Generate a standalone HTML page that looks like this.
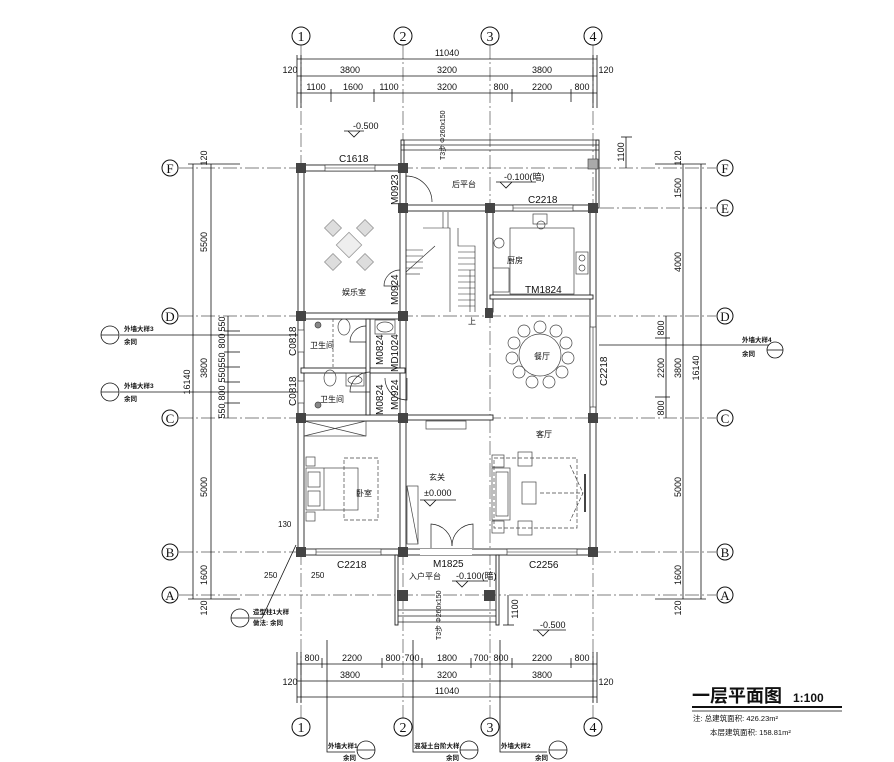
<!DOCTYPE html>
<html><head><meta charset="utf-8"><style>
html,body{margin:0;padding:0;background:#fff;}
svg{display:block;font-family:"Liberation Sans","Noto Sans CJK SC",sans-serif;}
.t{font-size:9px;fill:#111;}
.c{font-family:"Liberation Sans","Noto Sans CJK SC",sans-serif;}
</style></head><body>
<svg width="894" height="762" viewBox="0 0 894 762" xmlns="http://www.w3.org/2000/svg">
<rect width="894" height="762" fill="#fff"/>
<g stroke="#555" stroke-width="0.7" fill="none" stroke-dasharray="14,3,2,3">
<line x1="301" y1="45" x2="301" y2="718"/>
<line x1="403" y1="45" x2="403" y2="718"/>
<line x1="490" y1="45" x2="490" y2="718"/>
<line x1="593" y1="45" x2="593" y2="718"/>
<line x1="179" y1="168" x2="716" y2="168"/>
<line x1="600" y1="208" x2="716" y2="208"/>
<line x1="179" y1="316" x2="716" y2="316"/>
<line x1="179" y1="418" x2="716" y2="418"/>
<line x1="179" y1="552" x2="716" y2="552"/>
<line x1="179" y1="595" x2="716" y2="595"/>
</g>
<g stroke="#111" stroke-width="1" fill="#fff">
<circle cx="301" cy="36" r="9"/><circle cx="403" cy="36" r="9"/><circle cx="490" cy="36" r="9"/><circle cx="593" cy="36" r="9"/>
<circle cx="301" cy="727" r="9"/><circle cx="403" cy="727" r="9"/><circle cx="490" cy="727" r="9"/><circle cx="593" cy="727" r="9"/>
<circle cx="170" cy="168" r="8"/><circle cx="170" cy="316" r="8"/><circle cx="170" cy="418" r="8"/><circle cx="170" cy="552" r="8"/><circle cx="170" cy="595" r="8"/>
<circle cx="725" cy="168" r="8"/><circle cx="725" cy="208" r="8"/><circle cx="725" cy="316" r="8"/><circle cx="725" cy="418" r="8"/><circle cx="725" cy="552" r="8"/><circle cx="725" cy="595" r="8"/>
</g>
<g font-size="14" text-anchor="middle" fill="#111" font-family="Liberation Serif,serif">
<text x="301" y="41">1</text><text x="403" y="41">2</text><text x="490" y="41">3</text><text x="593" y="41">4</text>
<text x="301" y="732">1</text><text x="403" y="732">2</text><text x="490" y="732">3</text><text x="593" y="732">4</text>
<g font-size="13"><text x="170" y="173">F</text><text x="170" y="321">D</text><text x="170" y="423">C</text><text x="170" y="557">B</text><text x="170" y="600">A</text>
<text x="725" y="173">F</text><text x="725" y="213">E</text><text x="725" y="321">D</text><text x="725" y="423">C</text><text x="725" y="557">B</text><text x="725" y="600">A</text></g>
</g>
<g stroke="#111" stroke-width="0.8">
<line x1="297" y1="59" x2="597" y2="59"/><line x1="297" y1="76" x2="597" y2="76"/><line x1="297" y1="93" x2="597" y2="93"/>
<line x1="297" y1="55" x2="297" y2="108"/><line x1="301" y1="55" x2="301" y2="108"/><line x1="593" y1="55" x2="593" y2="108"/><line x1="597" y1="55" x2="597" y2="108"/>
<line x1="331" y1="89" x2="331" y2="102"/><line x1="374" y1="89" x2="374" y2="102"/><line x1="512" y1="89" x2="512" y2="102"/><line x1="571" y1="89" x2="571" y2="102"/>
<line x1="297" y1="664" x2="597" y2="664"/><line x1="297" y1="681" x2="597" y2="681"/><line x1="297" y1="697" x2="597" y2="697"/>
<line x1="297" y1="652" x2="297" y2="703"/><line x1="301" y1="652" x2="301" y2="703"/><line x1="593" y1="652" x2="593" y2="703"/><line x1="597" y1="652" x2="597" y2="703"/>
<line x1="322" y1="658" x2="322" y2="668"/><line x1="382" y1="658" x2="382" y2="668"/><line x1="422" y1="658" x2="422" y2="668"/><line x1="471" y1="658" x2="471" y2="668"/><line x1="512" y1="658" x2="512" y2="668"/><line x1="571" y1="658" x2="571" y2="668"/>
<line x1="193" y1="164" x2="193" y2="599"/><line x1="211" y1="164" x2="211" y2="599"/><line x1="228" y1="316" x2="228" y2="418"/>
<line x1="188" y1="164" x2="240" y2="164"/><line x1="188" y1="599" x2="240" y2="599"/>
<line x1="224" y1="331" x2="240" y2="331"/><line x1="224" y1="352" x2="240" y2="352"/><line x1="224" y1="367" x2="240" y2="367"/><line x1="224" y1="382" x2="240" y2="382"/><line x1="224" y1="403" x2="240" y2="403"/>
<line x1="683" y1="164" x2="683" y2="599"/><line x1="701" y1="164" x2="701" y2="599"/><line x1="666" y1="316" x2="666" y2="418"/>
<line x1="655" y1="164" x2="706" y2="164"/><line x1="655" y1="599" x2="706" y2="599"/>
<line x1="655" y1="338" x2="670" y2="338"/><line x1="655" y1="397" x2="670" y2="397"/>
<line x1="626" y1="137" x2="626" y2="168"/><line x1="621" y1="137" x2="632" y2="137"/>
<line x1="508" y1="595" x2="508" y2="625"/><line x1="503" y1="625" x2="514" y2="625"/>
</g>
<g class="t" text-anchor="middle" font-size="9">
<text x="447" y="56">11040</text>
<text x="290" y="73">120</text><text x="350" y="73">3800</text><text x="447" y="73">3200</text><text x="542" y="73">3800</text><text x="606" y="73">120</text>
<text x="316" y="90">1100</text><text x="353" y="90">1600</text><text x="389" y="90">1100</text><text x="447" y="90">3200</text><text x="501" y="90">800</text><text x="542" y="90">2200</text><text x="582" y="90">800</text>
<text x="312" y="661">800</text><text x="352" y="661">2200</text><text x="393" y="661">800</text><text x="412" y="661">700</text><text x="447" y="661">1800</text><text x="481" y="661">700</text><text x="501" y="661">800</text><text x="542" y="661">2200</text><text x="582" y="661">800</text>
<text x="290" y="685">120</text><text x="350" y="678">3800</text><text x="447" y="678">3200</text><text x="542" y="678">3800</text><text x="606" y="685">120</text>
<text x="447" y="694">11040</text>
</g>
<g class="t" font-size="8" text-anchor="middle">
<text transform="translate(207,158) rotate(-90)">120</text>
<text transform="translate(207,242) rotate(-90)">5500</text>
<text transform="translate(207,368) rotate(-90)">3800</text>
<text transform="translate(190,382) rotate(-90)">16140</text>
<text transform="translate(207,487) rotate(-90)">5000</text>
<text transform="translate(207,575) rotate(-90)">1600</text>
<text transform="translate(207,608) rotate(-90)">120</text>
<text transform="translate(225,324) rotate(-90)">550</text><text transform="translate(225,341) rotate(-90)">800</text><text transform="translate(225,360) rotate(-90)">550</text><text transform="translate(225,375) rotate(-90)">550</text><text transform="translate(225,393) rotate(-90)">800</text><text transform="translate(225,411) rotate(-90)">550</text>
<text transform="translate(681,158) rotate(-90)">120</text>
<text transform="translate(681,188) rotate(-90)">1500</text>
<text transform="translate(681,262) rotate(-90)">4000</text>
<text transform="translate(681,368) rotate(-90)">3800</text>
<text transform="translate(699,368) rotate(-90)">16140</text>
<text transform="translate(681,487) rotate(-90)">5000</text>
<text transform="translate(681,575) rotate(-90)">1600</text>
<text transform="translate(681,608) rotate(-90)">120</text>
<text transform="translate(664,328) rotate(-90)">800</text><text transform="translate(664,368) rotate(-90)">2200</text><text transform="translate(664,408) rotate(-90)">800</text>
<text transform="translate(624,152) rotate(-90)">1100</text>
<text transform="translate(518,609) rotate(-90)">1100</text>
</g>
<g fill="#fff" stroke="#222" stroke-width="0.9">
<rect x="298" y="165" width="6" height="390"/>
<rect x="400" y="165" width="6" height="390"/>
<rect x="590" y="205" width="6" height="350"/>
<rect x="487" y="205" width="6" height="107"/>
<rect x="298" y="165" width="108" height="6"/>
<rect x="403" y="205" width="193" height="6"/>
<rect x="301" y="313" width="105" height="6"/>
<rect x="301" y="415" width="105" height="6"/>
<rect x="406" y="415" width="87" height="5"/>
<rect x="298" y="549" width="298" height="6"/>
<rect x="301" y="368" width="104" height="5"/>
<rect x="366" y="319" width="4" height="96"/>
<rect x="490" y="295" width="103" height="4"/>
<rect x="596" y="140" width="3" height="68"/>
<rect x="401" y="140" width="3" height="28"/>
<rect x="395" y="555" width="3" height="70"/>
<rect x="496" y="555" width="3" height="70"/>
</g>
<g stroke="#222" stroke-width="0.8" fill="none">
<line x1="401" y1="140" x2="599" y2="140"/><line x1="401" y1="145" x2="599" y2="145"/><line x1="401" y1="150" x2="599" y2="150"/>
<line x1="398" y1="610" x2="496" y2="610"/><line x1="398" y1="616" x2="496" y2="616"/><line x1="398" y1="622" x2="496" y2="622"/>
</g>
<g fill="#fff" stroke="#222" stroke-width="0.6">
<rect x="325" y="165" width="50" height="6"/><line x1="325" y1="168" x2="375" y2="168"/>
<rect x="513" y="205" width="60" height="6"/><line x1="513" y1="208" x2="573" y2="208"/>
<rect x="316" y="549" width="65" height="6"/><line x1="316" y1="552" x2="381" y2="552"/>
<rect x="507" y="549" width="70" height="6"/><line x1="507" y1="552" x2="577" y2="552"/>
<rect x="590" y="327" width="6" height="80"/><line x1="593" y1="327" x2="593" y2="407"/>
<rect x="298" y="330" width="6" height="22"/><rect x="298" y="381" width="6" height="22"/>
<rect x="420" y="549" width="52" height="6" stroke="none"/>
</g>
<g fill="#444">
<rect x="296" y="163" width="10" height="10"/><rect x="398" y="163" width="10" height="10"/>
<rect x="398" y="203" width="10" height="10"/><rect x="485" y="203" width="10" height="10"/><rect x="588" y="203" width="10" height="10"/>
<rect x="296" y="311" width="10" height="10"/><rect x="398" y="311" width="10" height="10"/><rect x="485" y="308" width="8" height="10"/>
<rect x="296" y="413" width="10" height="10"/><rect x="398" y="413" width="10" height="10"/><rect x="588" y="413" width="10" height="10"/>
<rect x="296" y="547" width="10" height="10"/><rect x="398" y="547" width="10" height="10"/><rect x="588" y="547" width="10" height="10"/>
<rect x="397" y="590" width="11" height="11"/><rect x="484" y="590" width="11" height="11"/>
</g>
<rect x="588" y="159" width="10" height="10" fill="#aaa" stroke="#333" stroke-width="0.6"/>
<g stroke="#222" stroke-width="0.6" fill="none">
<polyline points="423,228 450,228 450,312"/>
<polyline points="458,228 458,246 475,246 475,312"/>
<line x1="443" y1="212" x2="443" y2="228"/><line x1="448" y1="212" x2="448" y2="228"/>
<line x1="406" y1="250" x2="423" y2="250"/><line x1="406" y1="256" x2="423" y2="256"/><line x1="406" y1="262" x2="423" y2="262"/><line x1="406" y1="268" x2="423" y2="268"/><line x1="406" y1="274" x2="420" y2="274"/>
<line x1="458" y1="252" x2="475" y2="252"/><line x1="458" y1="258" x2="475" y2="258"/><line x1="458" y1="264" x2="475" y2="264"/><line x1="458" y1="270" x2="475" y2="270"/><line x1="458" y1="276" x2="475" y2="276"/><line x1="458" y1="282" x2="475" y2="282"/><line x1="458" y1="288" x2="475" y2="288"/><line x1="458" y1="294" x2="475" y2="294"/><line x1="458" y1="300" x2="475" y2="300"/><line x1="458" y1="306" x2="475" y2="306"/>
<line x1="406" y1="272" x2="435" y2="246"/>
<line x1="470" y1="270" x2="470" y2="312"/>
</g>
<g stroke="#222" stroke-width="0.7" fill="none">
<path d="M406 202 L406 176 A26 26 0 0 1 432 202"/>
<path d="M400 286 L384 286 A16 16 0 0 1 400 270" />
<path d="M370 392 L350 392 A20 20 0 0 1 370 372"/>
<path d="M366 342 L350 342 A16 16 0 0 1 366 326"/>
<path d="M407 378 L407 400 A22 22 0 0 1 385 378"/>
<path d="M431 548 L431 524 A22 22 0 0 1 452 546"/>
<path d="M473 548 L473 524 A22 22 0 0 0 452 546"/>
</g>
<g stroke="#999" stroke-width="0.8" fill="#ddd">
<rect x="340" y="236" width="18" height="18" transform="rotate(45 349 245)" fill="#eee"/>
<rect x="327" y="222" width="12" height="12" transform="rotate(45 333 228)"/>
<rect x="359" y="222" width="12" height="12" transform="rotate(45 365 228)"/>
<rect x="327" y="256" width="12" height="12" transform="rotate(45 333 262)"/>
<rect x="359" y="256" width="12" height="12" transform="rotate(45 365 262)"/>
</g>
<g stroke="#444" stroke-width="0.7" fill="none">
<rect x="510" y="228" width="64" height="66"/>
<rect x="533" y="214" width="14" height="10"/><circle cx="541" cy="225" r="4"/>
<rect x="576" y="252" width="12" height="22"/><circle cx="582" cy="258" r="3"/><circle cx="582" cy="268" r="3"/>
<circle cx="499" cy="243" r="5"/>
<rect x="493" y="268" width="16" height="24"/>
<circle cx="540" cy="355" r="21"/>
<g fill="#fff">
<circle cx="540" cy="327" r="6"/><circle cx="556" cy="331" r="6"/><circle cx="566" cy="343" r="6"/><circle cx="568" cy="358" r="6"/><circle cx="562" cy="372" r="6"/><circle cx="549" cy="382" r="6"/><circle cx="532" cy="382" r="6"/><circle cx="519" cy="372" r="6"/><circle cx="512" cy="358" r="6"/><circle cx="514" cy="343" r="6"/><circle cx="524" cy="331" r="6"/>
</g>
<ellipse cx="344" cy="327" rx="6" ry="8"/><ellipse cx="385" cy="327" rx="8" ry="5"/><rect x="375" y="320" width="20" height="14"/>
<ellipse cx="330" cy="378" rx="6" ry="8"/><ellipse cx="355" cy="380" rx="7" ry="4"/><rect x="346" y="373" width="18" height="13"/>
<circle cx="318" cy="325" r="3" fill="#888"/><circle cx="318" cy="405" r="3" fill="#888"/>
<line x1="333" y1="319" x2="333" y2="367" stroke-dasharray="3,2"/>
<rect x="304" y="421" width="62" height="15"/><line x1="304" y1="421" x2="366" y2="436"/><line x1="304" y1="436" x2="366" y2="421"/>
<rect x="306" y="468" width="52" height="42"/><line x1="324" y1="468" x2="324" y2="510"/><rect x="308" y="472" width="12" height="15"/><rect x="308" y="491" width="12" height="15"/>
<rect x="306" y="457" width="9" height="9"/><rect x="306" y="512" width="9" height="9"/>
<rect x="344" y="458" width="34" height="62" stroke-dasharray="4,2"/>
<rect x="407" y="486" width="11" height="58"/><line x1="407" y1="486" x2="418" y2="544"/>
<rect x="426" y="421" width="40" height="8"/>
<rect x="492" y="468" width="18" height="52"/><rect x="496" y="472" width="12" height="44"/>
<rect x="492" y="455" width="12" height="12"/><rect x="492" y="521" width="12" height="12"/>
<rect x="518" y="452" width="14" height="14"/><rect x="518" y="521" width="14" height="14"/>
<rect x="522" y="482" width="14" height="22"/>
<rect x="494" y="458" width="83" height="70" stroke-dasharray="4,2"/>
<path d="M570 465 L583 493 L570 521 M540 493 L583 493" stroke-dasharray="4,2"/>
<line x1="585" y1="474" x2="585" y2="512" stroke-width="2"/>
</g>
<g stroke="#111" stroke-width="0.8" fill="none">
<path d="M344 131 L364 131 M348 131 L354 137 L360 131"/>
<path d="M496 182 L536 182 M500 182 L506 188 L512 182"/>
<path d="M420 500 L456 500 M424 500 L430 506 L436 500"/>
<path d="M452 581 L488 581 M456 581 L462 587 L468 581"/>
<path d="M533 630 L566 630 M537 630 L543 636 L549 630"/>
</g>
<g class="c" fill="#111" font-size="9">
<text x="353" y="129">-0.500</text>
<text x="504" y="180">-0.100(暗)</text>
<text x="424" y="496">±0.000</text>
<text x="456" y="579">-0.100(暗)</text>
<text x="540" y="628">-0.500</text>
<text x="452" y="187" font-size="8">后平台</text>
<text x="507" y="263" font-size="8">厨房</text>
<text x="342" y="295" font-size="8">娱乐室</text>
<text x="534" y="359" font-size="8">餐厅</text>
<text x="310" y="348" font-size="8">卫生间</text>
<text x="320" y="402" font-size="8">卫生间</text>
<text x="536" y="437" font-size="8">客厅</text>
<text x="429" y="480" font-size="8">玄关</text>
<text x="356" y="496" font-size="8">卧室</text>
<text x="409" y="579" font-size="8">入户平台</text>
<text x="468" y="324" font-size="8">上</text>
<text x="339" y="162" font-size="10">C1618</text>
<text x="528" y="203" font-size="10">C2218</text>
<text x="525" y="293" font-size="10">TM1824</text>
<text x="337" y="568" font-size="10">C2218</text>
<text x="433" y="567" font-size="10">M1825</text>
<text x="529" y="568" font-size="10">C2256</text>
<text x="278" y="527" font-size="8">130</text>
<text x="264" y="578" font-size="8">250</text><text x="311" y="578" font-size="8">250</text>
</g>
<g class="c" fill="#111" font-size="10">
<text transform="translate(398,205) rotate(-90)">M0923</text>
<text transform="translate(398,305) rotate(-90)">M0924</text>
<text transform="translate(398,372) rotate(-90)">MD1024</text>
<text transform="translate(398,410) rotate(-90)">M0924</text>
<text transform="translate(383,365) rotate(-90)">M0824</text>
<text transform="translate(383,415) rotate(-90)">M0824</text>
<text transform="translate(296,356) rotate(-90)">C0818</text>
<text transform="translate(296,406) rotate(-90)">C0818</text>
<text transform="translate(607,386) rotate(-90)">C2218</text>
<text transform="translate(445,160) rotate(-90)" font-size="7">T3步 Φ260x150</text>
<text transform="translate(441,640) rotate(-90)" font-size="7">T3步 Φ260x150</text>
</g>
<g stroke="#111" stroke-width="0.8" fill="#fff">
<line x1="120" y1="335" x2="298" y2="335"/><line x1="120" y1="392" x2="298" y2="392"/>
<line x1="599" y1="345" x2="775" y2="345"/>
<circle cx="110" cy="335" r="9"/><circle cx="110" cy="392" r="9"/><circle cx="775" cy="350" r="8"/>
<line x1="101" y1="335" x2="119" y2="335"/><line x1="101" y1="392" x2="119" y2="392"/><line x1="767" y1="350" x2="783" y2="350"/>
<polyline points="327,640 327,752 355,752" fill="none"/><polyline points="413,640 413,752 458,752" fill="none"/><polyline points="500,640 500,752 547,752" fill="none"/>
<circle cx="366" cy="750" r="9"/><circle cx="469" cy="750" r="9"/><circle cx="558" cy="750" r="9"/>
<line x1="357" y1="750" x2="375" y2="750"/><line x1="460" y1="750" x2="478" y2="750"/><line x1="549" y1="750" x2="567" y2="750"/>
<polyline points="296,545 262,618 250,618" fill="none"/>
<circle cx="240" cy="618" r="9"/><line x1="231" y1="618" x2="249" y2="618"/>
</g>
<g class="c" fill="#111" font-size="6.5" font-weight="bold">
<text x="124" y="331">外墙大样3</text><text x="124" y="344">余同</text>
<text x="124" y="388">外墙大样3</text><text x="124" y="401">余同</text>
<text x="742" y="342">外墙大样4</text><text x="742" y="356">余同</text>
<text x="253" y="614">造型柱1大样</text><text x="253" y="625">做法: 余同</text>
<text x="328" y="748">外墙大样1</text><text x="343" y="760">余同</text>
<text x="414" y="748">混凝土台阶大样</text><text x="446" y="760">余同</text>
<text x="501" y="748">外墙大样2</text><text x="535" y="760">余同</text>
</g>
<text x="692" y="702" class="c" font-size="18" font-weight="bold" fill="#111">一层平面图</text>
<text x="793" y="702" font-size="12" font-weight="bold" fill="#111">1:100</text>
<line x1="692" y1="707" x2="842" y2="707" stroke="#111" stroke-width="2"/>
<line x1="692" y1="711" x2="842" y2="711" stroke="#111" stroke-width="0.8"/>
<text x="693" y="721" class="c" font-size="7.5" fill="#111">注: 总建筑面积: 426.23m²</text>
<text x="710" y="735" class="c" font-size="7.5" fill="#111">本层建筑面积: 158.81m²</text>
</svg>
</body></html>
